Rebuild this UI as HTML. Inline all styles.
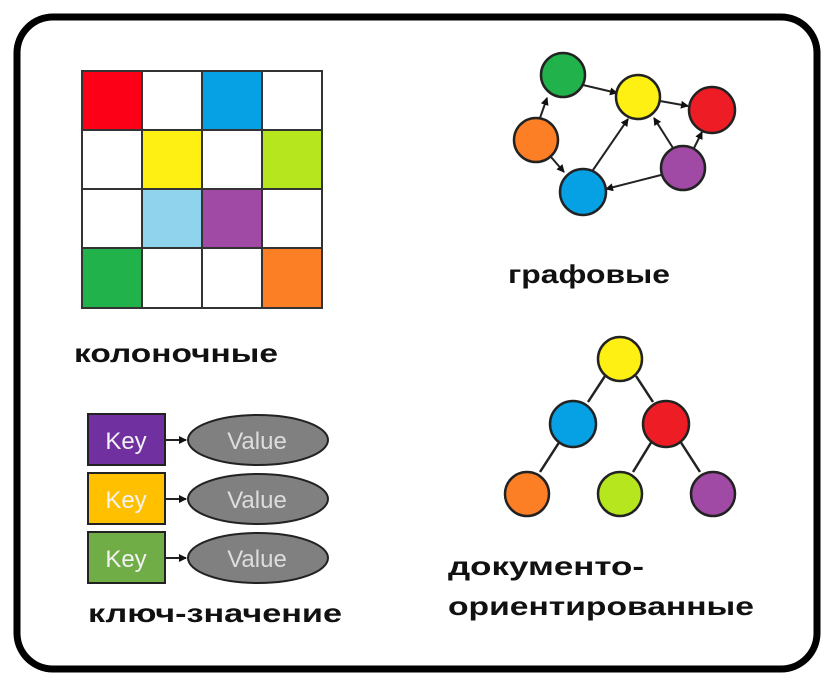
<!DOCTYPE html>
<html><head><meta charset="utf-8"><style>body{margin:0;background:#fff}svg{display:block}</style></head><body>
<svg width="833" height="686" viewBox="0 0 833 686" xmlns="http://www.w3.org/2000/svg">
<defs><marker id="a" markerWidth="8" markerHeight="8" refX="7" refY="4" orient="auto" markerUnits="userSpaceOnUse"><path d="M0,0L8,4L0,8z" fill="#111"/></marker></defs>
<rect x="17" y="17" width="800" height="652" rx="36" fill="#fff" stroke="#000" stroke-width="7"/>
<g stroke="#333" stroke-width="2">
<rect x="82" y="71" width="60" height="59" fill="#fb0016"/><rect x="142" y="71" width="60" height="59" fill="#fff"/><rect x="202" y="71" width="60" height="59" fill="#06a1e5"/><rect x="262" y="71" width="60" height="59" fill="#fff"/>
<rect x="82" y="130" width="60" height="59" fill="#fff"/><rect x="142" y="130" width="60" height="59" fill="#fff014"/><rect x="202" y="130" width="60" height="59" fill="#fff"/><rect x="262" y="130" width="60" height="59" fill="#b5e61e"/>
<rect x="82" y="189" width="60" height="59" fill="#fff"/><rect x="142" y="189" width="60" height="59" fill="#8fd4ec"/><rect x="202" y="189" width="60" height="59" fill="#a04aa6"/><rect x="262" y="189" width="60" height="59" fill="#fff"/>
<rect x="82" y="248" width="60" height="60" fill="#22b24c"/><rect x="142" y="248" width="60" height="60" fill="#fff"/><rect x="202" y="248" width="60" height="60" fill="#fff"/><rect x="262" y="248" width="60" height="60" fill="#fd7f25"/>
</g>
<g font-family="Liberation Sans, sans-serif" font-weight="bold" font-size="26" fill="#111">
<text x="74" y="362" textLength="204" lengthAdjust="spacingAndGlyphs">колоночные</text>
<text x="508" y="283" textLength="162" lengthAdjust="spacingAndGlyphs">графовые</text>
<text x="88" y="622" textLength="254" lengthAdjust="spacingAndGlyphs">ключ-значение</text>
<text x="448" y="575" textLength="196" lengthAdjust="spacingAndGlyphs">документо-</text>
<text x="448" y="615" textLength="306" lengthAdjust="spacingAndGlyphs">ориентированные</text>
</g>
<g stroke="#222" stroke-width="2" marker-end="url(#a)">
<line x1="583" y1="85" x2="617" y2="93"/>
<line x1="660" y1="101" x2="688" y2="106"/>
<line x1="540" y1="118" x2="547" y2="98"/>
<line x1="551" y1="157" x2="564" y2="172"/>
<line x1="593" y1="170" x2="628" y2="119"/>
<line x1="673" y1="148" x2="654" y2="118"/>
<line x1="694" y1="148" x2="702" y2="132"/>
<line x1="661" y1="175" x2="606" y2="189"/>
</g>
<g stroke="#222" stroke-width="2.5">
<circle cx="563" cy="75" r="22" fill="#22b24c"/><circle cx="638" cy="97" r="22" fill="#fff014"/><circle cx="712" cy="110" r="23" fill="#ee1c25"/>
<circle cx="536" cy="140" r="22" fill="#fd7f25"/><circle cx="583" cy="192" r="23" fill="#06a1e5"/><circle cx="683" cy="168" r="22" fill="#a04aa6"/>
<line x1="605" y1="376" x2="588" y2="402"/><line x1="636" y1="376" x2="653" y2="402"/>
<line x1="560" y1="441" x2="540" y2="472"/><line x1="652" y1="441" x2="633" y2="472"/><line x1="680" y1="441" x2="700" y2="472"/>
<circle cx="620" cy="359" r="22" fill="#fff014"/><circle cx="573" cy="424" r="23" fill="#06a1e5"/><circle cx="666" cy="424" r="23" fill="#ee1c25"/>
<circle cx="527" cy="494" r="22" fill="#fd7f25"/><circle cx="620" cy="494" r="22" fill="#b5e61e"/><circle cx="713" cy="494" r="22" fill="#a04aa6"/>
</g>
<g stroke="#222" stroke-width="2" font-family="Liberation Sans, sans-serif" font-size="24">
<rect x="88" y="414" width="77" height="51" fill="#7030a0"/><rect x="88" y="473" width="77" height="51" fill="#ffc000"/><rect x="88" y="532" width="77" height="51" fill="#70ad47"/>
<line x1="165" y1="440" x2="186" y2="440" marker-end="url(#a)"/><line x1="165" y1="499" x2="186" y2="499" marker-end="url(#a)"/><line x1="165" y1="558" x2="186" y2="558" marker-end="url(#a)"/>
<ellipse cx="258" cy="440" rx="70" ry="25" fill="#808080"/><ellipse cx="258" cy="499" rx="70" ry="25" fill="#808080"/><ellipse cx="258" cy="558" rx="70" ry="25" fill="#808080"/>
<g stroke="none" fill="#f2f2f2"><text x="126" y="449" text-anchor="middle">Key</text><text x="126" y="508" text-anchor="middle">Key</text><text x="126" y="567" text-anchor="middle">Key</text>
<text x="257" y="449" text-anchor="middle" fill="#ddd">Value</text><text x="257" y="508" text-anchor="middle" fill="#ddd">Value</text><text x="257" y="567" text-anchor="middle" fill="#ddd">Value</text></g>
</g>
</svg>
</body></html>
